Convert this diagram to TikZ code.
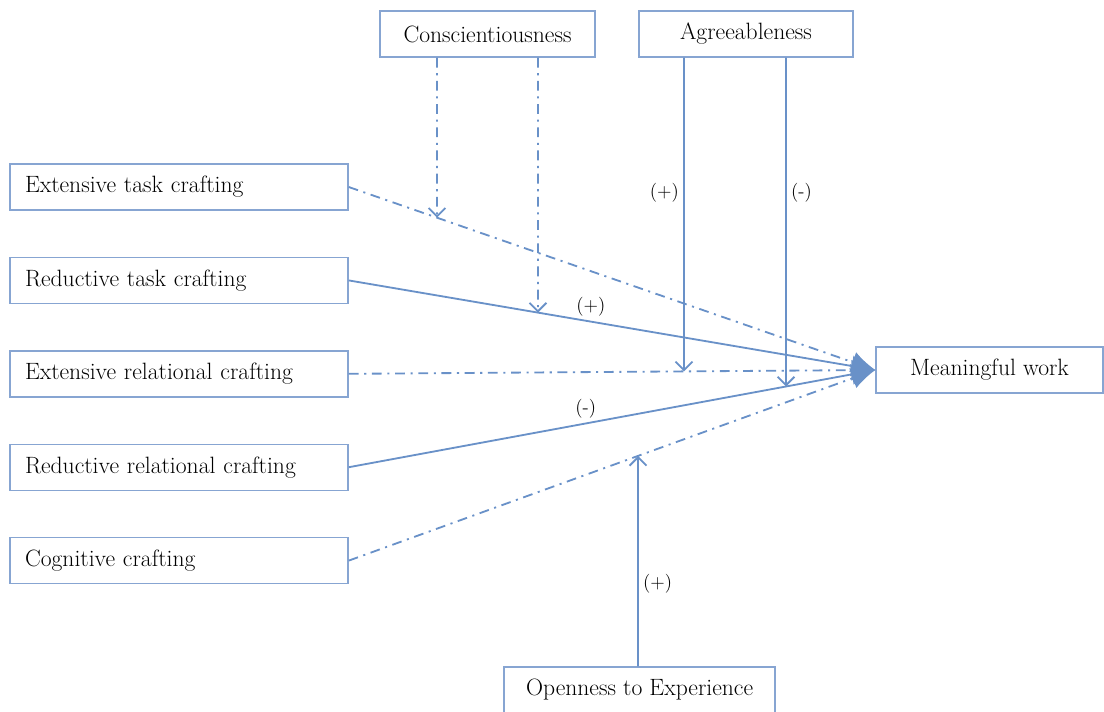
\documentclass[tikz,border=0pt]{standalone}
\usetikzlibrary{positioning, arrows.meta, calc}
\definecolor{boxblue}{RGB}{135,165,210}
\definecolor{linkblue}{RGB}{105,145,200}

\begin{document}
\begin{tikzpicture}[
    node distance=1.15cm and 1cm,
    baseblock/.style={
        rectangle,
        draw=boxblue,
        line width=1pt,
        minimum height=1.15cm,
        font=\fontsize{16.8}{19}\selectfont
    },
    craftblock/.style={baseblock, text width=7.7cm, align=left, inner xsep=0.375cm},
    traitblock/.style={baseblock, align=center},
    solidlink/.style={draw=linkblue, line width=1.3pt, -{Latex[length=17pt, width=15pt]}},
    dashlink/.style={solidlink, dash pattern=on 7pt off 4pt on 1.5pt off 4pt},
    modsolid/.style={draw=linkblue, line width=1.3pt, -{Straight Barb[length=6pt, width=12pt]}},
    moddash/.style={modsolid, dash pattern=on 7pt off 4pt on 1.5pt off 4pt},
    signlabel/.style={font=\fontsize{13.5}{16}\selectfont, inner sep=3pt}
]
    \useasboundingbox (0,0) rectangle (27.6,-17.775);

    % --- Crafting (left column) ---
    \node[craftblock] (et) at (4.475,-4.675) {Extensive task crafting};
    \node[craftblock, below=of et] (rt) {Reductive task crafting};
    \node[craftblock, below=of rt] (er) {Extensive relational crafting};
    \node[craftblock, below=of er] (rr) {Reductive relational crafting};
    \node[craftblock, below=of rr] (cc) {Cognitive crafting};

    % --- Outcome ---
    \node[traitblock, minimum width=5.675cm] (mw) at (24.7375,-9.25) {Meaningful work};

    % --- Personality traits ---
    \node[traitblock, minimum width=5.375cm] (cons) at (12.1875,-0.85) {Conscientiousness};
    \node[traitblock, minimum width=5.35cm] (agr) at (18.65,-0.85) {Agreeableness};
    \node[traitblock, minimum width=6.775cm] (op) at (15.99,-17.25) {Openness to Experience};

    % Main effects
    \draw[dashlink] (et.east) -- (mw.west);
    \draw[solidlink] (rt.east) -- (mw.west) node[pos=0.46, above, signlabel] {(+)};
    \draw[dashlink] (er.east) -- (mw.west);
    \draw[solidlink] (rr.east) -- (mw.west) node[pos=0.45, above, signlabel] {(-)};
    \draw[dashlink] (cc.east) -- (mw.west);

    % Moderators
    \coordinate (c1) at ([xshift=-1.2625cm]cons.south);
    \coordinate (c2) at ([xshift=1.2625cm]cons.south);
    \coordinate (a1) at ([xshift=-1.55cm]agr.south);
    \coordinate (a2) at ([xshift=1cm]agr.south);
    \coordinate (o1) at ([xshift=-0.04cm]op.north);
    \coordinate (c1b) at ([yshift=-10cm]c1);
    \coordinate (c2b) at ([yshift=-10cm]c2);
    \coordinate (a1b) at ([yshift=-10cm]a1);
    \coordinate (a2b) at ([yshift=-10cm]a2);
    \coordinate (o1b) at ([yshift=10cm]o1);

    \draw[moddash] (c1) -- (intersection of et.east--mw.west and c1--c1b);
    \draw[moddash] (c2) -- (intersection of rt.east--mw.west and c2--c2b);
    \draw[modsolid] (a1) -- (intersection of er.east--mw.west and a1--a1b)
        node[pos=0.43, left, signlabel] {(+)};
    \draw[modsolid] (a2) -- (intersection of rr.east--mw.west and a2--a2b)
        node[pos=0.41, right, signlabel] {(-)};
    \draw[modsolid] (o1) -- (intersection of cc.east--mw.west and o1--o1b)
        node[pos=0.39, right, signlabel] {(+)};

\end{tikzpicture}
\end{document}
